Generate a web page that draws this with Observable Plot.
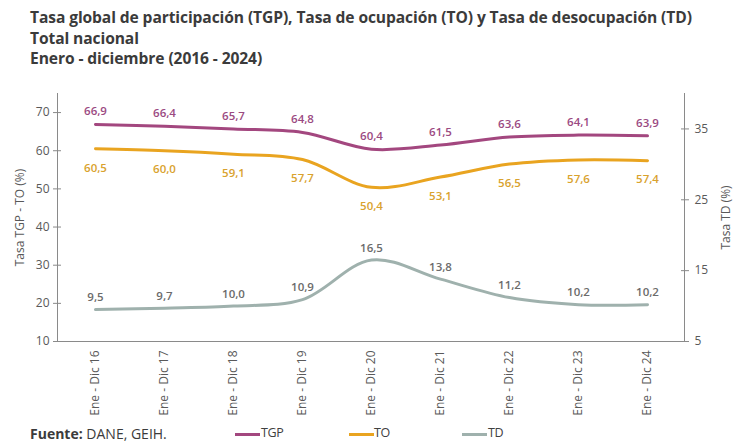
<!DOCTYPE html>
<html><head><meta charset="utf-8">
<script src="https://cdn.jsdelivr.net/npm/d3@7"></script>
<script src="https://cdn.jsdelivr.net/npm/@observablehq/plot@0.6"></script>
<style>
body{margin:0;background:#fff;font-family:"Open Sans",sans-serif;width:734px;height:443px;overflow:hidden;position:relative}
#title{padding:7px 0 0 30px;height:75px;box-sizing:border-box;font-weight:bold;font-size:15.6px;color:#3b3b3b;line-height:20.5px;letter-spacing:-0.1px}
#chart{height:345px}
#legend{position:absolute;top:424px;left:0;width:734px;color:#404040}
.sw{position:absolute;top:9px;height:3px;width:25px}
.lt{position:absolute;top:1px;font-size:12.5px;line-height:15px;letter-spacing:-0.4px}
.src{position:absolute;top:2px;left:30px;font-size:14px;line-height:16px;color:#3b3b3b}
</style></head>
<body>
<div id="title">Tasa global de participación (TGP), Tasa de ocupación (TO) y Tasa de desocupación (TD)<br>Total nacional<br>Enero - diciembre (2016 - 2024)</div>
<div id="chart"></div>
<div id="legend">
<span class="src"><b>Fuente:</b> DANE, GEIH.</span>
<span class="sw" style="left:235px;background:#a3477f"></span><span class="lt" style="left:261px">TGP</span>
<span class="sw" style="left:349px;background:#e9a420"></span><span class="lt" style="left:374px">TO</span>
<span class="sw" style="left:462px;background:#9fb1ad"></span><span class="lt" style="left:488px">TD</span>
</div>
<script>
const periods = ["Ene - Dic 16","Ene - Dic 17","Ene - Dic 18","Ene - Dic 19","Ene - Dic 20","Ene - Dic 21","Ene - Dic 22","Ene - Dic 23","Ene - Dic 24"];
const tgp = [66.9, 66.4, 65.7, 64.8, 60.4, 61.5, 63.6, 64.1, 63.9];
const to = [60.5, 60.0, 59.1, 57.7, 50.4, 53.1, 56.5, 57.6, 57.4];
const td = [9.5, 9.7, 10.0, 10.9, 16.5, 13.8, 11.2, 10.2, 10.2];
const leftTicks = [10, 20, 30, 40, 50, 60, 70];
const rightTicks = [5, 15, 25, 35];

// map TD (right axis 5–40) onto left axis (10–75)
const toLeft = v => 10 + (v - 5) * 65 / 35;
const fromLeft = v => 5 + (v - 10) * 35 / 65;
const fmt = v => v.toFixed(1).replace(".", ",");

const rows = periods.map((p, i) => ({p, tgp: tgp[i], to: to[i], td: td[i], tdL: toLeft(td[i])}));

const chart = Plot.plot({
  width: 734, height: 345,
  marginLeft: 57, marginRight: 50, marginTop: 18, marginBottom: 79,
  style: {fontFamily: "Open Sans, sans-serif", fontSize: "12px", color: "#595959"},
  x: {type: "point", domain: periods, padding: 0.5},
  y: {domain: [10, 75]},
  marks: [
    Plot.frame({anchor: "left", stroke: "#8a8a8a"}),
    Plot.frame({anchor: "right", stroke: "#8a8a8a"}),
    Plot.frame({anchor: "bottom", stroke: "#8a8a8a"}),
    Plot.axisX({tickSize: 0, tickRotate: -90, tickPadding: 9, textAnchor: "end", label: null, fill: "#595959", fontSize: 12}),
    Plot.axisY({ticks: leftTicks, tickSize: 4, tickPadding: 4, stroke: "#8a8a8a", label: "Tasa TGP - TO (%)", labelAnchor: "center", labelArrow: "none", labelOffset: 42, fill: "#595959"}),
    Plot.axisY({ticks: leftTicks, tickSize: -4, tickFormat: () => "", stroke: "#8a8a8a", label: null}),
    Plot.axisY({anchor: "right", ticks: rightTicks.map(toLeft), tickFormat: d => Math.round(fromLeft(d)), tickSize: 4, tickPadding: 6, stroke: "#8a8a8a", label: "Tasa TD (%)", labelAnchor: "center", labelArrow: "none", labelOffset: 45, fill: "#595959"}),
    Plot.axisY({anchor: "right", ticks: rightTicks.map(toLeft), tickSize: -4, tickFormat: () => "", stroke: "#8a8a8a", label: null}),
    Plot.line(rows, {x: "p", y: "tgp", stroke: "#a3477f", strokeWidth: 3, curve: "catmull-rom"}),
    Plot.line(rows, {x: "p", y: "to", stroke: "#e9a420", strokeWidth: 3, curve: "catmull-rom"}),
    Plot.line(rows, {x: "p", y: "tdL", stroke: "#9fb1ad", strokeWidth: 3, curve: "catmull-rom"}),
    Plot.text(rows, {x: "p", y: "tgp", text: d => fmt(d.tgp), dy: -13, fill: "#9b4a82", fontWeight: 600, fontSize: 11.5}),
    Plot.text(rows, {x: "p", y: "to", text: d => fmt(d.to), dy: 19, fill: "#d9a22e", fontWeight: 600, fontSize: 11.5}),
    Plot.text(rows, {x: "p", y: "tdL", text: d => fmt(d.td), dy: -12, fill: "#6b6b6b", fontWeight: 600, fontSize: 11.5})
  ]
});
document.getElementById("chart").append(chart);
</script>
</body></html>
